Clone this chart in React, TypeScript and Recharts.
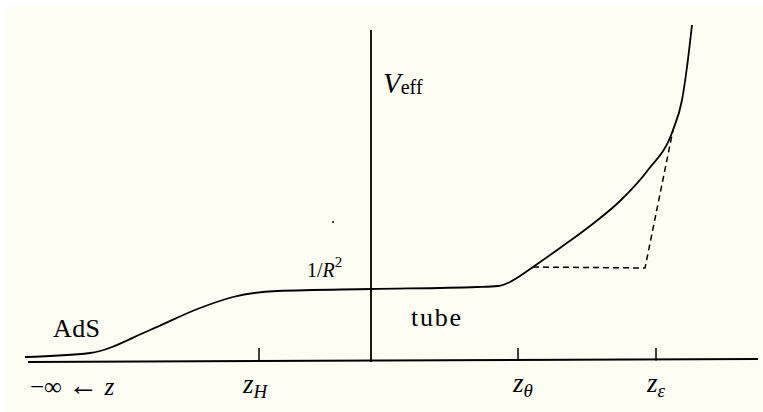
import { ComposedChart, Line, XAxis, YAxis, ReferenceLine, ReferenceDot } from 'recharts';

// schematic effective potential V_eff(z), arbitrary units (vertical axis at z = 0)
const potentialZ = [-3.46, -2.81, -2.21, -1.71, -1.38, -0.94, 0, 1.06, 1.27, 1.39, 1.49, 1.62, 1.89, 2.19, 2.49, 2.77, 3.02, 3.11, 3.16, 3.21];
const potentialV = [0.04, 0.08, 0.31, 0.53, 0.64, 0.70, 0.72, 0.74, 0.75, 0.79, 0.85, 0.94, 1.13, 1.35, 1.60, 1.91, 2.31, 2.61, 2.94, 3.36];

// dashed approximation
const dashedZ = [1.62, 2.74, 3.02];
const dashedV = [0.94, 0.93, 2.31];

// tick marks on the z axis: z_H, z_theta, z_epsilon
const tickZ = [-1.12, 1.47, 2.85];
const tickHeight = 0.13;

const labelText = ['V|eff', '1/R|2', 'AdS', 'tube', '−∞ ← z', 'z|H', 'z|θ', 'z|ε'];
const labelZ = [0.12, -0.64, -3.18, 0.40, -3.41, -1.28, 1.42, 2.76];
const labelV = [2.68, 0.84, 0.24, 0.35, -0.34, -0.32, -0.31, -0.31];

const potential = potentialZ.map((z, i) => ({ z, v: potentialV[i] }));
const dashed = dashedZ.map((z, i) => ({ z, v: dashedV[i] }));
const labels = labelText.map((t, i) => ({ z: labelZ[i], v: labelV[i], t }));

const font = { fontFamily: "'Liberation Serif', 'Times New Roman', 'DejaVu Serif', serif" };

function renderLabel(t: string) {
  return (props: any) => {
    const { viewBox } = props;
    const x = viewBox.x;
    const y = viewBox.y;
    if (t === 'V|eff') {
      return (
        <text x={x} y={y} style={font} fill="#000">
          <tspan fontSize={29} fontStyle="italic">V</tspan>
          <tspan fontSize={20} dy={1}>eff</tspan>
        </text>
      );
    }
    if (t === '1/R|2') {
      return (
        <text x={x} y={y} style={font} fill="#000" fontSize={20}>
          <tspan>1/</tspan>
          <tspan fontStyle="italic">R</tspan>
          <tspan fontSize={15} dy={-10}>2</tspan>
        </text>
      );
    }
    if (t.includes('|')) {
      const [base, sub] = t.split('|');
      return (
        <text x={x} y={y} style={font} fill="#000">
          <tspan fontSize={27} fontStyle="italic">{base}</tspan>
          <tspan fontSize={19} fontStyle="italic" dy={5}>{sub}</tspan>
        </text>
      );
    }
    if (t.startsWith('−∞')) {
      return (
        <text x={x} y={y} style={font} fill="#000" fontSize={25}>
          <tspan>−∞ </tspan>
          <tspan fontSize={30}>←</tspan>
          <tspan> </tspan>
          <tspan fontStyle="italic">z</tspan>
        </text>
      );
    }
    return (
      <text x={x} y={y} style={font} fill="#000" fontSize={26} textLength={t === 'tube' ? 50 : 47}>
        {t}
      </text>
    );
  };
}

export default function App() {
  return (
    <div style={{ position: 'absolute', left: 0, top: 0, width: 763, height: 412, background: '#ffffff' }}>
      <div style={{ position: 'absolute', left: 7, top: 7, right: 0, bottom: 0, background: '#fdfdf3' }} />
      <div style={{ position: 'absolute', left: 0, top: 0 }}>
        <ComposedChart width={763} height={412} margin={{ top: 0, right: 0, bottom: 0, left: 0 }}>
          <XAxis type="number" dataKey="z" domain={[-3.71, 3.92]} hide allowDataOverflow />
          <YAxis type="number" dataKey="v" domain={[-0.51, 3.61]} hide allowDataOverflow />
          {/* axes */}
          <ReferenceLine segment={[{ x: -3.43, y: -0.01 }, { x: 3.87, y: 0.02 }]} stroke="#000" strokeWidth={2} />
          <ReferenceLine segment={[{ x: 0, y: 3.31 }, { x: 0, y: -0.01 }]} stroke="#000" strokeWidth={1.8} />
          {tickZ.map((z) => (
            <ReferenceLine key={z} segment={[{ x: z, y: tickHeight }, { x: z, y: 0.005 }]} stroke="#000" strokeWidth={1.5} />
          ))}
          <ReferenceDot x={-0.38} y={1.39} r={1} fill="#000" stroke="none" />
          <Line data={dashed} dataKey="v" type="linear" stroke="#000" strokeWidth={1.5} strokeDasharray="6 4" dot={false} activeDot={false} isAnimationActive={false} />
          <Line data={potential} dataKey="v" type="monotone" stroke="#000" strokeWidth={1.8} dot={false} activeDot={false} isAnimationActive={false} />
          {labels.map((l) => (
            <ReferenceDot key={l.t} x={l.z} y={l.v} r={0} fill="none" stroke="none" label={{ content: renderLabel(l.t) }} />
          ))}
        </ComposedChart>
      </div>
    </div>
  );
}
